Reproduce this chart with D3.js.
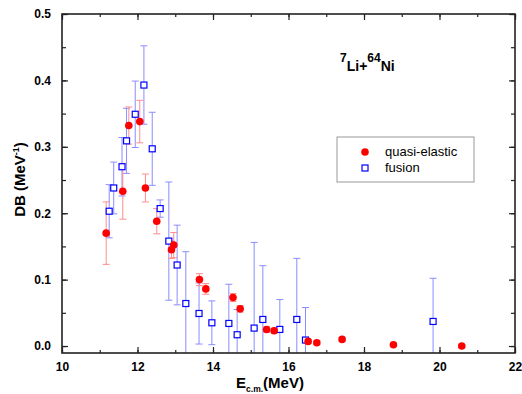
<!DOCTYPE html>
<html>
<head>
<meta charset="utf-8">
<script src="https://cdn.jsdelivr.net/npm/d3@7"></script>
<style>
  body { margin: 0; background: #fff; }
  svg text { font-family: "Liberation Sans", Arial, sans-serif; font-weight: bold; }
</style>
</head>
<body>
<svg id="chart" width="522" height="394"></svg>
<script>
// quasi-elastic barrier distribution
var qeE   = [11.17, 11.61, 11.77, 12.06, 12.21, 12.51, 12.90, 12.96, 13.64, 13.81, 14.53, 14.72, 15.42, 15.62, 16.52, 16.75, 17.42, 18.78, 20.59];
var qeDB  = [0.170, 0.233, 0.332, 0.338, 0.238, 0.188, 0.145, 0.152, 0.100, 0.086, 0.073, 0.056, 0.025, 0.023, 0.007, 0.005, 0.010, 0.002, 0.000];
var qeErr = [0.047, 0.042, 0.028, 0.032, 0.021, 0.019, 0.013, 0.019, 0.009, 0.008, 0.006, 0.005, 0.004, 0.004, 0.003, 0.003, 0.003, 0.002, 0.002];

// fusion barrier distribution
var fusE   = [11.25, 11.37, 11.59, 11.71, 11.94, 12.17, 12.39, 12.60, 12.83, 13.05, 13.28, 13.63, 13.97, 14.42, 14.64, 15.09, 15.32, 15.77, 16.22, 16.45, 19.83];
var fusDB  = [0.203, 0.238, 0.270, 0.309, 0.349, 0.393, 0.297, 0.207, 0.158, 0.122, 0.064, 0.049, 0.035, 0.034, 0.017, 0.027, 0.040, 0.025, 0.040, 0.009, 0.037];
var fusErr = [0.040, 0.039, 0.044, 0.049, 0.050, 0.059, 0.055, 0.013, 0.089, 0.060, 0.078, 0.046, 0.033, 0.059, 0.038, 0.129, 0.081, 0.045, 0.092, 0.049, 0.065];

var xTicks = [10, 12, 14, 16, 18, 20, 22];
var yTicks = [0.0, 0.1, 0.2, 0.3, 0.4, 0.5];
var seriesNames = ['quasi-elastic', 'fusion'];

var margin = {left: 62, right: 7, top: 14, bottom: 41},
  width = 522 - margin.left - margin.right,
  height = 394 - margin.top - margin.bottom;

var svg = d3.select('#chart');
var g = svg.append('g')
  .attr('transform', 'translate(' + margin.left + ',' + margin.top + ')');

var x = d3.scaleLinear().domain([10, 22]).range([0, width]);
var y = d3.scaleLinear().domain([-0.0105, 0.5]).range([height, 0]);

var qe = qeE.map(function (e, i) { return {e: e, v: qeDB[i], err: qeErr[i]}; });
var fus = fusE.map(function (e, i) { return {e: e, v: fusDB[i], err: fusErr[i]}; });

g.append('clipPath').attr('id', 'clip')
  .append('rect').attr('width', width).attr('height', height);

var plot = g.append('g').attr('clip-path', 'url(#clip)');

function errorBars(data, color, cls) {
  var eb = plot.selectAll('.' + cls).data(data).enter().append('g')
    .attr('class', cls)
    .attr('stroke', color)
    .attr('stroke-width', 1);
  eb.append('line')
    .attr('x1', function (d) { return x(d.e); })
    .attr('x2', function (d) { return x(d.e); })
    .attr('y1', function (d) { return y(d.v - d.err); })
    .attr('y2', function (d) { return y(d.v + d.err); });
  [1, -1].forEach(function (s) {
    eb.append('line')
      .attr('x1', function (d) { return x(d.e) - 3.5; })
      .attr('x2', function (d) { return x(d.e) + 3.5; })
      .attr('y1', function (d) { return y(d.v + s * d.err); })
      .attr('y2', function (d) { return y(d.v + s * d.err); });
  });
}

errorBars(fus, '#8c8cff', 'fus-err');
errorBars(qe, '#ff8c8c', 'qe-err');

plot.selectAll('.fus').data(fus).enter().append('rect')
  .attr('class', 'fus')
  .attr('x', function (d) { return x(d.e) - 3; })
  .attr('y', function (d) { return y(d.v) - 3; })
  .attr('width', 6).attr('height', 6)
  .attr('fill', '#fff')
  .attr('stroke', '#0000ff')
  .attr('stroke-width', 1.2);

plot.selectAll('.qe').data(qe).enter().append('circle')
  .attr('class', 'qe')
  .attr('cx', function (d) { return x(d.e); })
  .attr('cy', function (d) { return y(d.v); })
  .attr('r', 3.8)
  .attr('fill', '#ff0000');

// axes: ticks inward on all four sides
var axisColor = '#222';
function styleAxis(sel) {
  sel.select('.domain').remove();
  sel.selectAll('line').attr('stroke', axisColor).attr('stroke-width', 1.2);
}

var xMinor = d3.range(10, 22.01, 1);
var yMinor = d3.range(0, 0.501, 0.05);

g.append('g').attr('transform', 'translate(0,' + height + ')')
  .call(d3.axisBottom(x).tickValues(xMinor).tickSize(-3).tickFormat(''))
  .call(styleAxis);
g.append('g').attr('transform', 'translate(0,' + height + ')')
  .call(d3.axisBottom(x).tickValues(xTicks).tickSize(-6).tickPadding(9).tickFormat(d3.format('d')))
  .call(styleAxis)
  .selectAll('text').attr('font-size', 12).attr('fill', '#000');
g.append('g')
  .call(d3.axisTop(x).tickValues(xMinor).tickSize(-3).tickFormat(''))
  .call(styleAxis);
g.append('g')
  .call(d3.axisTop(x).tickValues(xTicks).tickSize(-6).tickFormat(''))
  .call(styleAxis);

g.append('g')
  .call(d3.axisLeft(y).tickValues(yMinor).tickSize(-4).tickFormat(''))
  .call(styleAxis);
g.append('g')
  .call(d3.axisLeft(y).tickValues(yTicks).tickSize(-6).tickPadding(11).tickFormat(d3.format('.1f')))
  .call(styleAxis)
  .selectAll('text').attr('font-size', 12).attr('fill', '#000');
g.append('g').attr('transform', 'translate(' + width + ',0)')
  .call(d3.axisRight(y).tickValues(yMinor).tickSize(-4).tickFormat(''))
  .call(styleAxis);
g.append('g').attr('transform', 'translate(' + width + ',0)')
  .call(d3.axisRight(y).tickValues(yTicks).tickSize(-6).tickFormat(''))
  .call(styleAxis);

g.append('rect')
  .attr('width', width).attr('height', height)
  .attr('fill', 'none')
  .attr('stroke', axisColor)
  .attr('stroke-width', 1.6);

// axis titles
var xt = g.append('text')
  .attr('x', 208)
  .attr('y', height + 35)
  .attr('text-anchor', 'middle')
  .attr('font-size', 15);
xt.append('tspan').text('E');
xt.append('tspan').attr('font-size', 8.5).attr('dy', 3.5).text('c.m.');
xt.append('tspan').attr('dy', -3.5).text('(MeV)');

var yt = g.append('text')
  .attr('transform', 'translate(' + (-37) + ',' + (height / 2 - 4) + ') rotate(-90)')
  .attr('text-anchor', 'middle')
  .attr('font-size', 15);
yt.append('tspan').text('DB (MeV');
yt.append('tspan').attr('font-size', 9).attr('dy', -6).text('-1');
yt.append('tspan').attr('dy', 6).text(')');

// reaction label
var lbl = g.append('text')
  .attr('x', 340 - margin.left)
  .attr('y', 71 - margin.top)
  .attr('font-size', 14);
lbl.append('tspan').attr('font-size', 12).attr('dy', -9).text('7');
lbl.append('tspan').attr('dy', 9).text('Li+');
lbl.append('tspan').attr('font-size', 12).attr('dy', -9).text('64');
lbl.append('tspan').attr('dy', 9).text('Ni');

// legend
var legend = g.append('g')
  .attr('transform', 'translate(' + (337 - margin.left) + ',' + (137 - margin.top) + ')');
legend.append('rect')
  .attr('width', 137).attr('height', 45)
  .attr('fill', '#fff')
  .attr('stroke', '#999')
  .attr('stroke-width', 1);
legend.append('circle')
  .attr('cx', 28).attr('cy', 15).attr('r', 3.8)
  .attr('fill', '#ff0000');
legend.append('rect')
  .attr('x', 25).attr('y', 28).attr('width', 6).attr('height', 6)
  .attr('fill', '#fff').attr('stroke', '#0000ff').attr('stroke-width', 1.2);
legend.selectAll('.leg-text').data(seriesNames).enter().append('text')
  .attr('class', 'leg-text')
  .attr('x', 48)
  .attr('y', function (d, i) { return 19 + i * 16; })
  .attr('font-size', 13)
  .style('font-weight', 'normal')
  .text(function (d) { return d; });
</script>
</body>
</html>
